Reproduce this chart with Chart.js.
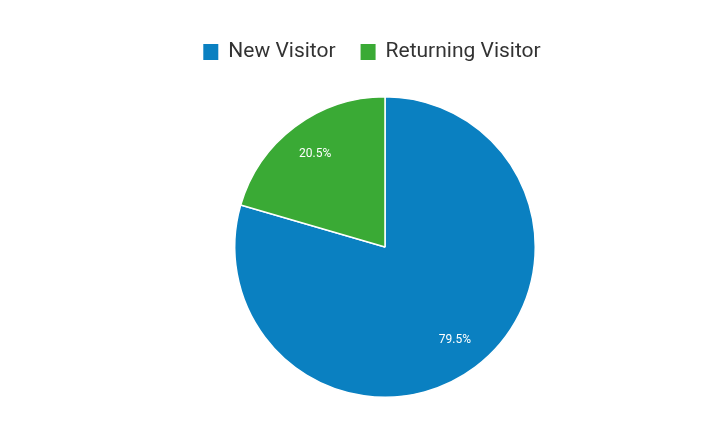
<!DOCTYPE html>
<html><head><meta charset="utf-8">
<script src="https://cdn.jsdelivr.net/npm/chart.js@4/dist/chart.umd.min.js"></script>
<style>html,body{margin:0;padding:0;background:#fff;}#wrap{width:720px;height:433px;position:relative;}</style>
</head><body><div id="wrap"><canvas id="c" width="720" height="433"></canvas></div>
<script>
const categories = ["New Visitor", "Returning Visitor"];
const values = [79.5, 20.5];
const colors = ["#0a80c1", "#3aaa35"];

const labelPlugin = {
  id: 'sliceLabels',
  afterDatasetsDraw(chart) {
    const ctx = chart.ctx;
    const meta = chart.getDatasetMeta(0);
    const total = values.reduce((a, b) => a + b, 0);
    ctx.save();
    ctx.font = '12px Roboto, Arial, sans-serif';
    ctx.fillStyle = '#ffffff';
    ctx.textAlign = 'center';
    ctx.textBaseline = 'middle';
    meta.data.forEach((arc, i) => {
      const mid = (arc.startAngle + arc.endAngle) / 2;
      const r = arc.outerRadius * 0.775;
      const x = arc.x + Math.cos(mid) * r;
      const y = arc.y + Math.sin(mid) * r;
      ctx.fillText((values[i] / total * 100).toFixed(1) + '%', x, y);
    });
    ctx.restore();
  }
};

const legendPlugin = {
  id: 'customLegend',
  afterDraw(chart) {
    const ctx = chart.ctx;
    ctx.save();
    ctx.font = '21px Roboto, Arial, sans-serif';
    ctx.textBaseline = 'middle';
    const boxW = 15, boxH = 16, gap = 10, itemGap = 25;
    const widths = categories.map(c => boxW + gap + ctx.measureText(c).width);
    const totalW = widths.reduce((a, b) => a + b, 0) + itemGap * (categories.length - 1);
    let x = 372 - totalW / 2;
    const y = 52;
    categories.forEach((c, i) => {
      ctx.fillStyle = colors[i];
      ctx.fillRect(x, y - boxH / 2, boxW, boxH);
      ctx.fillStyle = '#333333';
      ctx.fillText(c, x + boxW + gap, y);
      x += widths[i] + itemGap;
    });
    ctx.restore();
  }
};

new Chart(document.getElementById('c'), {
  type: 'pie',
  data: {
    labels: categories,
    datasets: [{
      data: values,
      backgroundColor: colors,
      borderColor: '#ffffff',
      borderWidth: 1.5,
      hoverOffset: 0
    }]
  },
  options: {
    responsive: false,
    animation: false,
    events: [],
    layout: { padding: { top: 96, bottom: 35, left: 234, right: 184 } },
    plugins: { legend: { display: false }, tooltip: { enabled: false } }
  },
  plugins: [labelPlugin, legendPlugin]
});
</script></body></html>
